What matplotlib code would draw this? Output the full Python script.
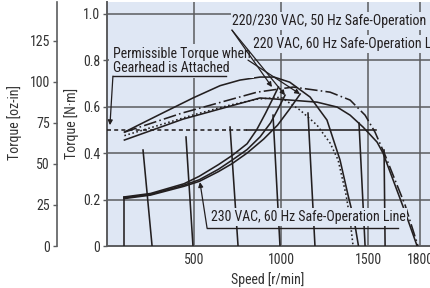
import matplotlib
matplotlib.use('Agg')
import matplotlib.pyplot as plt
from matplotlib import font_manager


def pick_font():
    entries = font_manager.fontManager.ttflist
    names = {f.name for f in entries}
    for n in ['Liberation Sans Narrow', 'Roboto Condensed', 'Open Sans Condensed',
              'Noto Sans Condensed', 'DejaVu Sans Condensed', 'Arial Narrow']:
        if n in names:
            return n, 'normal'
    for fam in ['Roboto', 'Open Sans', 'Noto Sans', 'DejaVu Sans', 'Liberation Sans']:
        for f in entries:
            if f.name == fam and str(f.stretch) in ('condensed', 'semi-condensed', 'extra-condensed', '75', '87'):
                return fam, str(f.stretch)
    return None, 'normal'


FONT, STRETCH = pick_font()
if FONT is None:
    plt.rcParams['font.family'] = ['Roboto', 'DejaVu Sans']
    FS = 9
else:
    plt.rcParams['font.family'] = [FONT, 'DejaVu Sans']
    plt.rcParams['font.stretch'] = STRETCH
    FS = 10

BG = '#dfe7f4'
INK = '#231f20'
GRID = '#5b5c5e'
NM_TO_OZIN = 141.612

# ---- axes / ticks ----
speed_ticks = [500, 1000, 1500, 1800]
speed_labels = ['500', '1000', '1500', '1800']
nm_ticks = [0, 0.2, 0.4, 0.6, 0.8, 1.0]
nm_labels = ['0', '0.2', '0.4', '0.6', '0.8', '1.0']
ozin_ticks = [0, 25, 50, 75, 100, 125]
ozin_labels = ['0', '25', '50', '75', '100', '125']

# ---- maximum torque curves ----
u1_speed = [100, 300, 494, 650, 764, 880, 960, 1050, 1167, 1264, 1339, 1385, 1420, 1445]
u1_torque = [0.49, 0.565, 0.637, 0.69, 0.714, 0.727, 0.727, 0.705, 0.641, 0.542, 0.37, 0.219, 0.112, 0.0]

u2_speed = [100, 431, 862, 1069, 1282, 1397, 1483, 1540, 1598, 1655, 1713, 1787]
u2_torque = [0.49, 0.572, 0.662, 0.684, 0.662, 0.628, 0.563, 0.49, 0.391, 0.284, 0.176, 0.0]

u3_speed = [100, 300, 500, 700, 862, 1000, 1109, 1207, 1282, 1328, 1374, 1397, 1414]
u3_torque = [0.475, 0.52, 0.565, 0.605, 0.632, 0.64, 0.585, 0.52, 0.443, 0.37, 0.219, 0.112, 0.0]

u4_speed = [100, 437, 879, 1052, 1207, 1322, 1397, 1471, 1552, 1586, 1655, 1713, 1782]
u4_torque = [0.456, 0.546, 0.637, 0.628, 0.619, 0.598, 0.563, 0.512, 0.447, 0.40, 0.262, 0.146, 0.0]

# ---- safe-operation lines ----
l1_speed = [98, 250, 443, 530, 640, 720, 805, 860, 910, 950, 985]
l1_torque = [0.211, 0.226, 0.268, 0.30, 0.35, 0.39, 0.44, 0.50, 0.57, 0.63, 0.684]
l2_speed = [98, 250, 443, 530, 640, 720, 805, 880, 940, 990, 1023]
l2_torque = [0.207, 0.222, 0.262, 0.285, 0.33, 0.37, 0.415, 0.47, 0.53, 0.60, 0.649]
l3_speed = [98, 250, 443, 530, 640, 720, 805, 900, 980, 1050, 1110]
l3_torque = [0.204, 0.219, 0.257, 0.278, 0.32, 0.355, 0.40, 0.46, 0.52, 0.59, 0.654]

# ---- speed-setting lines (top point -> zero torque point) ----
set_speed_top = [98, 207, 454, 707, 954, 1155, 1448, 1592]
set_torque_top = [0.211, 0.413, 0.469, 0.512, 0.563, 0.572, 0.529, 0.413]
set_speed_zero = [98, 259, 494, 753, 994, 1195, 1483, 1598]

# ---- permissible torque with gearhead ----
gear_torque = 0.5
gear_dashed_speed = [0, 805]
gear_solid_speed = [805, 1545]

fig = plt.figure(figsize=(4.3, 2.88), dpi=100)
W, H = 430, 288
ax = fig.add_axes([107 / W, 42 / H, 323 / W, 244 / H])
ax.set_facecolor(BG)
ax.set_xlim(0, 1856)
ax.set_ylim(0, 1.05)

for s in speed_ticks:
    ax.axvline(s, color=GRID, lw=1.1, zorder=1)
for t in nm_ticks[1:]:
    ax.axhline(t, color=GRID, lw=1.1, zorder=1)

ax.set_xticks(speed_ticks)
ax.set_xticklabels(speed_labels)
ax.set_yticks(nm_ticks)
ax.set_yticklabels(nm_labels)
ax.tick_params(axis='x', length=0, pad=5, labelsize=FS, colors='#333333')
ax.tick_params(axis='y', length=3, width=1, pad=2, labelsize=FS, colors='#333333', color=GRID)
for side in ['top', 'right']:
    ax.spines[side].set_visible(False)
for side in ['left', 'bottom']:
    ax.spines[side].set_color(GRID)
    ax.spines[side].set_linewidth(1.4)

lw = 1.15
ax.plot(u1_speed, u1_torque, color=INK, lw=lw, zorder=3)
ax.plot(u2_speed, u2_torque, color=INK, lw=lw, ls=(0, (8, 2, 1, 2)), zorder=3)
ax.plot(u3_speed, u3_torque, color=INK, lw=lw, ls=(0, (1, 1.6)), zorder=3)
ax.plot(u4_speed, u4_torque, color=INK, lw=lw, zorder=3)
ax.plot(l1_speed, l1_torque, color=INK, lw=lw, zorder=3)
ax.plot(l2_speed, l2_torque, color=INK, lw=lw, zorder=3)
ax.plot(l3_speed, l3_torque, color=INK, lw=lw, zorder=3)
for s0, t0, s1 in zip(set_speed_top, set_torque_top, set_speed_zero):
    ax.plot([s0, s1], [t0, 0], color=INK, lw=lw, zorder=3)
ax.plot(gear_dashed_speed, [gear_torque] * 2, color=INK, lw=lw, ls=(0, (2.5, 2)), zorder=3)
ax.plot(gear_solid_speed, [gear_torque] * 2, color=INK, lw=lw, zorder=3)

box = dict(boxstyle='square,pad=0.12', fc=BG, ec='none')
ax.text(720, 0.968, '220/230 VAC, 50 Hz Safe-Operation Line', fontsize=FS, color=INK,
        ha='left', va='center', bbox=box, zorder=6, clip_on=False)
ax.text(840, 0.869, '220 VAC, 60 Hz Safe-Operation Line', fontsize=FS, color=INK,
        ha='left', va='center', bbox=box, zorder=6)
ax.text(34, 0.796, 'Permissible Torque when\nGearhead is Attached', fontsize=FS, color=INK,
        ha='left', va='center', linespacing=1.0,
        bbox=dict(boxstyle='square,pad=0.25', fc=BG, ec='none'), zorder=6)
ax.text(598, 0.125, '230 VAC, 60 Hz Safe-Operation Line', fontsize=FS, color=INK,
        ha='left', va='center', bbox=box, zorder=6)

# underlines
ax.plot([34, 684], [0.731, 0.731], color=INK, lw=1.0, zorder=7)
ax.plot([575, 1672], [0.077, 0.077], color=INK, lw=1.0, zorder=7)

arrow = dict(arrowstyle='-|>', color=INK, lw=0.9, mutation_scale=7, shrinkA=0, shrinkB=0)
ax.annotate('', xy=(948, 0.684), xytext=(718, 0.929), arrowprops=arrow, zorder=7)
ax.annotate('', xy=(1023, 0.649), xytext=(718, 0.929), arrowprops=arrow, zorder=7)
ax.annotate('', xy=(1109, 0.654), xytext=(810, 0.80), arrowprops=arrow, zorder=7)
ax.annotate('', xy=(17, 0.52), xytext=(34, 0.731), arrowprops=arrow, zorder=7)
ax.annotate('', xy=(534, 0.275), xytext=(575, 0.077), arrowprops=arrow, zorder=7)

fig.text(268 / W, 1 - 280 / H, 'Speed [r/min]', fontsize=FS, color='#333333', ha='center', va='center')
fig.text(72 / W, 1 - 123 / H, 'Torque [N·m]', fontsize=FS, color='#333333', ha='center', va='center', rotation=90)
fig.text(15 / W, 1 - 123 / H, 'Torque [oz-in]', fontsize=FS, color='#333333', ha='center', va='center', rotation=90)

# secondary oz-in axis
ax2 = fig.add_axes([57 / W, 42 / H, 0.0001, 244 / H])
ax2.set_facecolor('none')
ax2.set_ylim(0, 1.05 * NM_TO_OZIN)
ax2.set_yticks(ozin_ticks)
ax2.set_yticklabels(ozin_labels)
ax2.set_xticks([])
for side in ['top', 'right', 'bottom']:
    ax2.spines[side].set_visible(False)
ax2.spines['left'].set_color(GRID)
ax2.spines['left'].set_linewidth(1.2)
ax2.tick_params(axis='y', length=3, width=1, pad=2, labelsize=FS, colors='#333333', color=GRID)

fig.savefig('out.png', dpi=100)
